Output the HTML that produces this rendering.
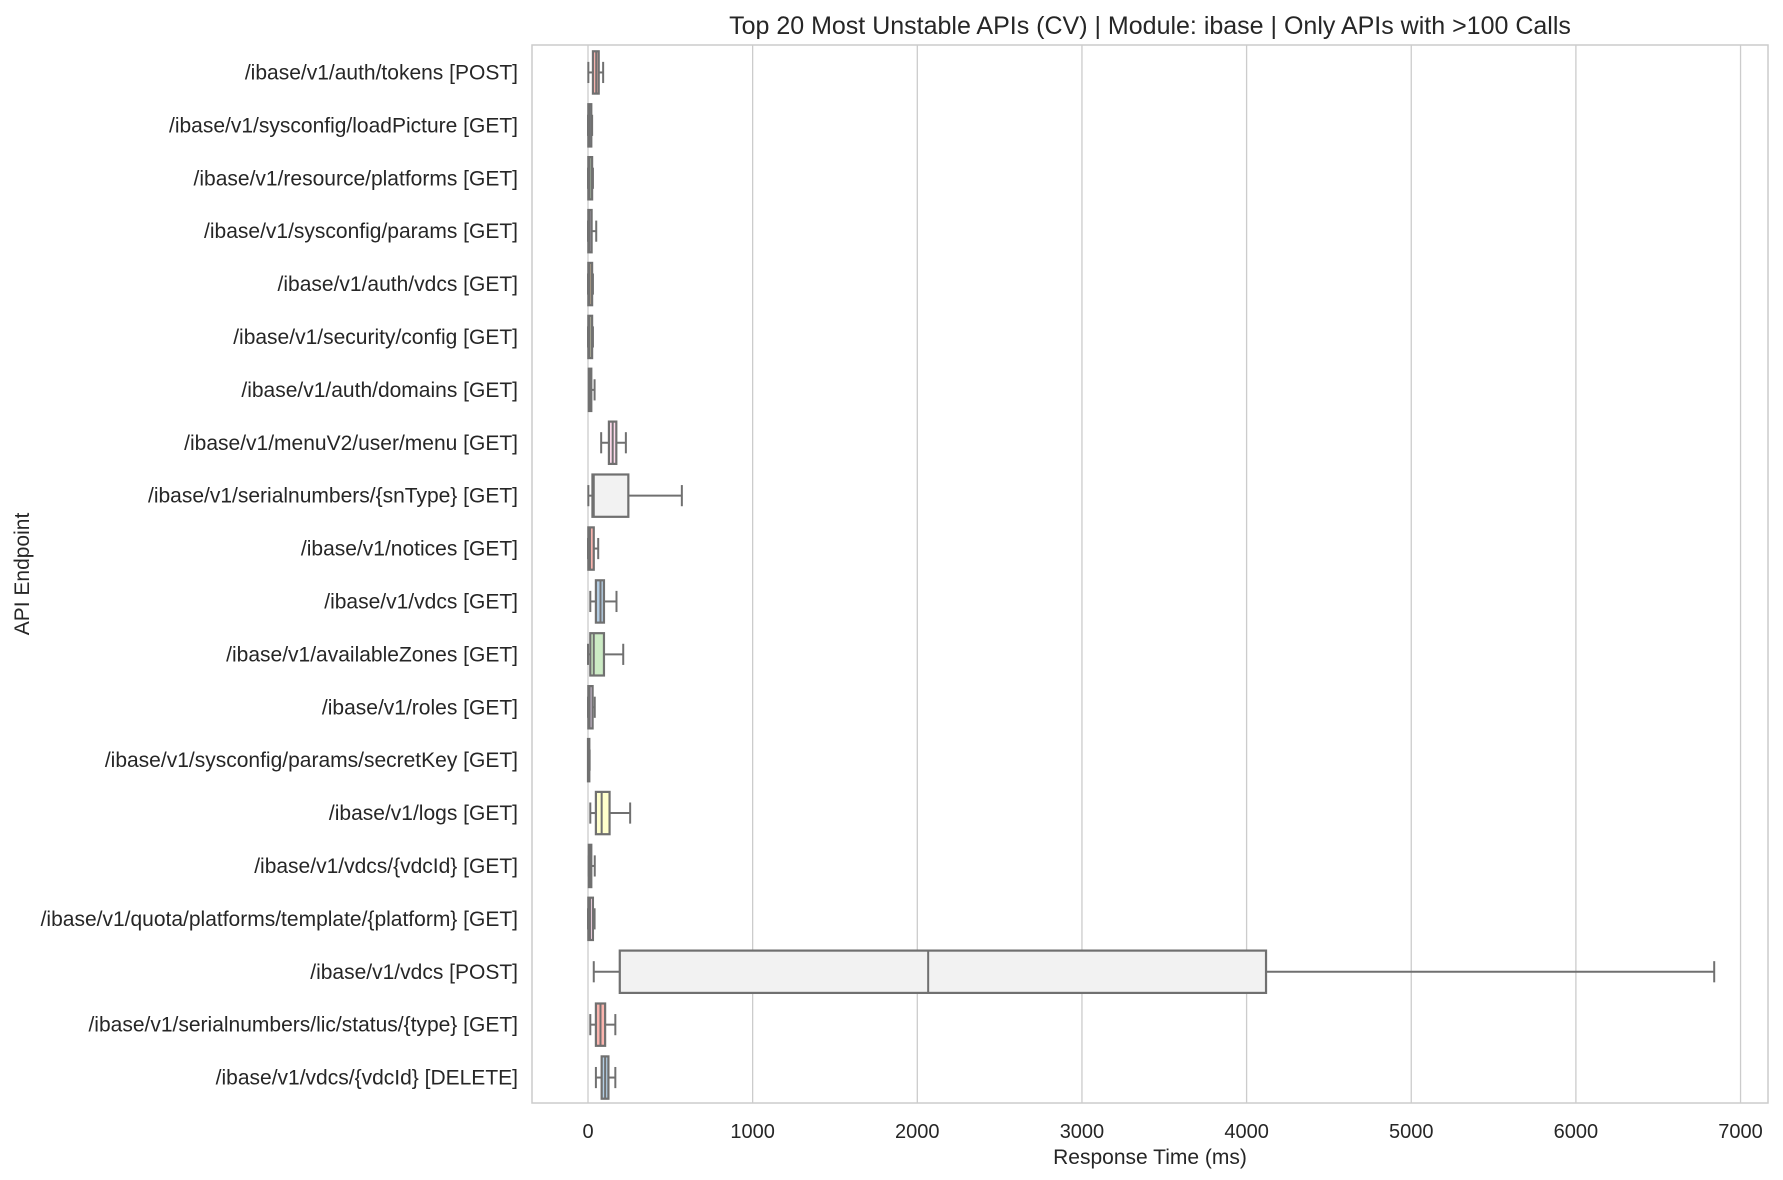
<!DOCTYPE html>
<html><head><meta charset="utf-8"><style>
html,body{margin:0;padding:0;background:#fff;}
svg{display:block;font-family:"Liberation Sans",Arial,sans-serif;}
</style></head><body>
<svg id="chart" width="1783" height="1180" viewBox="0 0 1783 1180" xmlns="http://www.w3.org/2000/svg"></svg>
<script>
const categories = ["/ibase/v1/auth/tokens [POST]","/ibase/v1/sysconfig/loadPicture [GET]","/ibase/v1/resource/platforms [GET]","/ibase/v1/sysconfig/params [GET]","/ibase/v1/auth/vdcs [GET]","/ibase/v1/security/config [GET]","/ibase/v1/auth/domains [GET]","/ibase/v1/menuV2/user/menu [GET]","/ibase/v1/serialnumbers/{snType} [GET]","/ibase/v1/notices [GET]","/ibase/v1/vdcs [GET]","/ibase/v1/availableZones [GET]","/ibase/v1/roles [GET]","/ibase/v1/sysconfig/params/secretKey [GET]","/ibase/v1/logs [GET]","/ibase/v1/vdcs/{vdcId} [GET]","/ibase/v1/quota/platforms/template/{platform} [GET]","/ibase/v1/vdcs [POST]","/ibase/v1/serialnumbers/lic/status/{type} [GET]","/ibase/v1/vdcs/{vdcId} [DELETE]"];
const whiskerLow = [2,0,0,0,0,0,8,80,2,0,14,0,0,0,14,5,0,35,14,48];
const q1 =         [30,2,2,2,2,2,5,127,27,2,48,14,2,0,48,5,2,193,48,83];
const medians =    [50,8,10,8,10,10,12,150,35,12,76,35,10,4,83,12,12,2066,76,104];
const q3 =         [65,20,25,22,25,25,20,172,245,35,97,97,28,8,131,20,30,4118,104,124];
const whiskerHigh =[92,25,30,50,30,30,40,230,570,62,173,214,41,10,256,41,40,6840,166,166];
const xTicks = [0,1000,2000,3000,4000,5000,6000,7000];
const palette = ["#fbb4ae","#b3cde3","#ccebc5","#decbe4","#fed9a6","#ffffcc","#e5d8bd","#fddaec","#f2f2f2"];

const L=532,R=1768,T=45,B=1103, zeroX=588, pxPerUnit=0.16465;
const xs=v=>zeroX+v*pxPerUnit;
const band=(B-T)/categories.length;
const yc=i=>T+band*(i+0.5)+1;
const NS="http://www.w3.org/2000/svg";
const svg=document.getElementById('chart');
function mk(tag,attrs,parent){const e=document.createElementNS(NS,tag);for(const k in attrs)e.setAttribute(k,attrs[k]);(parent||svg).appendChild(e);return e;}

xTicks.forEach(t=>{
  const g=mk('line',{x1:xs(t),x2:xs(t),y1:T,y2:B,stroke:'#cccccc','stroke-width':1.3});
  
  
  const tl=mk('text',{x:xs(t),y:1138,'text-anchor':'middle','font-size':20,fill:'#262626'});
  tl.textContent=t;
  
  
});
const sp=mk('rect',{x:L,y:T,width:R-L,height:B-T,fill:'none',stroke:'#cccccc','stroke-width':1.5});



const ec='#707070', bh=band*0.8;
categories.forEach((c,i)=>{
  const y=yc(i);
  const g=mk('g',{});
  
  
  mk('line',{x1:xs(whiskerLow[i]),x2:xs(q1[i]),y1:y,y2:y,stroke:ec,'stroke-width':2},g);
  mk('line',{x1:xs(q3[i]),x2:xs(whiskerHigh[i]),y1:y,y2:y,stroke:ec,'stroke-width':2},g);
  mk('line',{x1:xs(whiskerLow[i]),x2:xs(whiskerLow[i]),y1:y-bh/4,y2:y+bh/4,stroke:ec,'stroke-width':2},g);
  mk('line',{x1:xs(whiskerHigh[i]),x2:xs(whiskerHigh[i]),y1:y-bh/4,y2:y+bh/4,stroke:ec,'stroke-width':2},g);
  mk('rect',{x:xs(q1[i]),y:y-bh/2,width:Math.max(xs(q3[i])-xs(q1[i]),0.5),height:bh,fill:palette[i%palette.length],stroke:ec,'stroke-width':2.2},g);
  mk('line',{x1:xs(medians[i]),x2:xs(medians[i]),y1:y-bh/2,y2:y+bh/2,stroke:ec,'stroke-width':2},g);
  const t=mk('text',{x:518,y:y+7,'text-anchor':'end','font-size':21,fill:'#262626'});
  t.textContent=c;
  
  
});
const title=mk('text',{x:(L+R)/2,y:34,'text-anchor':'middle','font-size':25,fill:'#262626'});
title.textContent='Top 20 Most Unstable APIs (CV) | Module: ibase | Only APIs with >100 Calls';


const xt=mk('text',{x:(L+R)/2,y:1164,'text-anchor':'middle','font-size':21,fill:'#262626'});
xt.textContent='Response Time (ms)';


const yt=mk('text',{x:0,y:0,'text-anchor':'middle','font-size':21,fill:'#262626',transform:'translate(29,'+((T+B)/2)+') rotate(-90)'});
yt.textContent='API Endpoint';


</script>
</body></html>
